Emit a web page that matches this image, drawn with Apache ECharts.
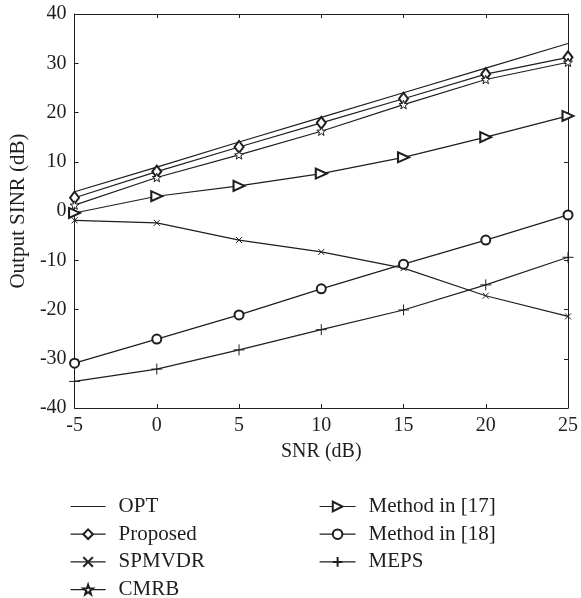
<!DOCTYPE html>
<html>
<head>
<meta charset="utf-8">
<script src="https://cdn.jsdelivr.net/npm/echarts@6/dist/echarts.min.js"></script>
<style>
  html, body { margin: 0; padding: 0; background: #fff; }
  #main { width: 581px; height: 598px; }
</style>
</head>
<body>
<div id="main"></div>
<script>
// SNR values on the x axis
var snr = [-5, 0, 5, 10, 15, 20, 25];

// output SINR per method
var opt      = [3.9, 8.9, 14.0, 19.0, 24.0, 29.0, 34.0];
var proposed = [2.7, 8.0, 13.0, 17.9, 22.8, 27.8, 31.2];
var spmvdr   = [-1.9, -2.4, -5.9, -8.3, -11.6, -17.2, -21.4];
var cmrb     = [1.2, 6.8, 11.4, 16.2, 21.6, 26.7, 30.2];
var method17 = [-0.4, 3.0, 5.1, 7.6, 10.9, 15.0, 19.3];
var method18 = [-30.9, -26.0, -21.1, -15.8, -10.8, -5.9, -0.8];
var meps     = [-34.6, -32.1, -28.2, -24.1, -20.1, -15.0, -9.4];

var ink = '#1e1e1e';
var font = 'Liberation Serif';

// markers that ECharts has no built-in for
var crossPath = 'path://M0,0L10,10M10,0L0,10';
var plusPath = 'path://M5,0L5,10M0,5L10,5';
var starPath = 'path://M10,0L12.35,6.76L19.51,6.91L13.8,11.24L15.88,18.09L10,14L4.12,18.09L6.2,11.24L0.49,6.91L7.65,6.76Z';

function pairs(ys) {
    var out = [];
    for (var i = 0; i < snr.length; i++) {
        out.push([snr[i], ys[i]]);
    }
    return out;
}

// fill: colour used to fill the marker (empty* symbols fill white by themselves)
function makeSeries(name, ys, symbol, size, rotate, fill) {
    return {
        name: name,
        type: 'line',
        data: pairs(ys),
        symbol: symbol,
        symbolSize: size,
        symbolRotate: rotate || 0,
        symbolKeepAspect: true,
        animation: false,
        lineStyle: { color: ink, width: 1.2 },
        itemStyle: {
            color: fill,
            borderColor: ink,
            borderWidth: 1
        },
        emphasis: { disabled: true }
    };
}

var seriesList = [
    makeSeries('OPT', opt, 'none', 0, 0, ink),
    makeSeries('Proposed', proposed, 'emptyDiamond', [9, 12], 0, ink),
    makeSeries('SPMVDR', spmvdr, crossPath, 6, 0, 'rgba(0,0,0,0)'),
    makeSeries('CMRB', cmrb, starPath, 9, 0, '#fff'),
    makeSeries('Method in [17]', method17, 'emptyTriangle', [10, 11], -90, ink),
    makeSeries('Method in [18]', method18, 'emptyCircle', 9, 0, ink),
    makeSeries('MEPS', meps, plusPath, 11, 0, 'rgba(0,0,0,0)')
];

var legendText = {
    fontFamily: font,
    fontSize: 21,
    lineHeight: 20,
    color: ink,
    padding: [0, 0, 0, 8]
};

var option = {
    backgroundColor: '#fff',
    animation: false,
    grid: { left: 72, right: 9, top: 14, bottom: 190 },
    legend: [
        {
            orient: 'vertical',
            left: 70,
            top: 496,
            height: 120,
            padding: 0,
            itemWidth: 35,
            itemHeight: 12,
            itemGap: 6.7,
            textStyle: legendText,
            lineStyle: { width: 1.2 },
            selectedMode: false,
            data: [
                { name: 'OPT', itemStyle: { opacity: 0 } },
                'Proposed', 'SPMVDR', 'CMRB'
            ]
        },
        {
            orient: 'vertical',
            left: 319,
            top: 496,
            height: 120,
            padding: 0,
            itemWidth: 36,
            itemHeight: 12,
            itemGap: 6.7,
            textStyle: legendText,
            lineStyle: { width: 1.2 },
            selectedMode: false,
            data: ['Method in [17]', 'Method in [18]', 'MEPS']
        }
    ],
    xAxis: [
        {
            type: 'value',
            min: -5,
            max: 25,
            interval: 5,
            name: 'SNR (dB)',
            nameLocation: 'middle',
            nameGap: 34,
            nameTextStyle: { fontFamily: font, fontSize: 20, color: ink },
            axisLine: { onZero: false, lineStyle: { color: ink, width: 1 } },
            axisTick: { inside: true, length: 4, lineStyle: { color: ink } },
            axisLabel: { fontFamily: font, fontSize: 20, color: ink, margin: 8 },
            splitLine: { show: false }
        },
        {
            type: 'value',
            position: 'top',
            min: -5,
            max: 25,
            interval: 5,
            axisLine: { onZero: false, lineStyle: { color: ink, width: 1 } },
            axisTick: { inside: true, length: 4, lineStyle: { color: ink } },
            axisLabel: { show: false },
            splitLine: { show: false }
        }
    ],
    yAxis: [
        {
            type: 'value',
            min: -40,
            max: 40,
            interval: 10,
            name: 'Output SINR (dB)',
            nameLocation: 'middle',
            nameGap: 42,
            nameTextStyle: { fontFamily: font, fontSize: 21, color: ink },
            axisLine: { show: true, onZero: false, lineStyle: { color: ink, width: 1 } },
            axisTick: { show: true, inside: true, length: 4, lineStyle: { color: ink } },
            axisLabel: { fontFamily: font, fontSize: 20, color: ink, margin: 8 },
            splitLine: { show: false }
        },
        {
            type: 'value',
            position: 'right',
            min: -40,
            max: 40,
            interval: 10,
            axisLine: { show: true, onZero: false, lineStyle: { color: ink, width: 1 } },
            axisTick: { show: true, inside: true, length: 4, lineStyle: { color: ink } },
            axisLabel: { show: false },
            splitLine: { show: false }
        }
    ],
    series: seriesList
};

var chart = echarts.init(document.getElementById('main'), null, { renderer: 'canvas' });
chart.setOption(option);
</script>
</body>
</html>
